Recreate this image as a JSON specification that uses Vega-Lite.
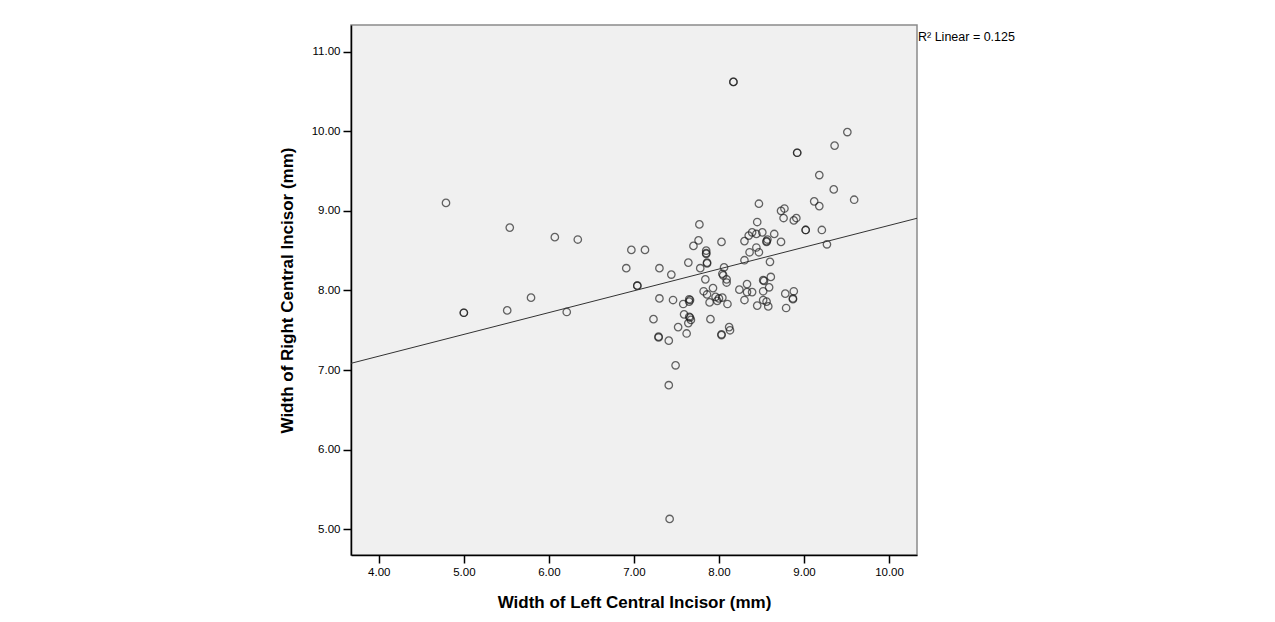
{
  "$schema": "https://vega.github.io/schema/vega-lite/v6.json",
  "width": 566,
  "height": 530,
  "autosize": "none",
  "padding": {"left": 351, "top": 25, "right": 358, "bottom": 67},
  "background": "white",
  "config": {
    "view": {"fill": "#f0f0f0", "stroke": "#8a8a8a", "strokeWidth": 1.5},
    "font": "Liberation Sans",
    "axis": {
      "domainColor": "#000000", "domainWidth": 1.5,
      "tickColor": "#000000", "tickSize": 8, "tickWidth": 1.5,
      "labelFont": "Liberation Sans", "labelFontSize": 11.5, "labelColor": "#000000", "labelPadding": 3,
      "titleFont": "Liberation Sans", "titleFontSize": 17, "titleFontWeight": "bold", "titleColor": "#000000",
      "grid": false
    }
  },
  "layer": [
    {
      "data": {"values": [
        {"left": 4.79, "right": 9.10}, {"left": 5.54, "right": 8.79}, {"left": 6.07, "right": 8.67}, {"left": 6.34, "right": 8.64},
        {"left": 5.00, "right": 7.72}, {"left": 5.00, "right": 7.72}, {"left": 5.51, "right": 7.75}, {"left": 5.79, "right": 7.91},
        {"left": 6.21, "right": 7.73}, {"left": 8.17, "right": 10.62}, {"left": 8.17, "right": 10.62}, {"left": 9.51, "right": 9.99},
        {"left": 9.36, "right": 9.82}, {"left": 8.92, "right": 9.73}, {"left": 8.92, "right": 9.73}, {"left": 9.18, "right": 9.45},
        {"left": 9.35, "right": 9.27}, {"left": 9.59, "right": 9.14}, {"left": 9.12, "right": 9.12}, {"left": 9.18, "right": 9.06},
        {"left": 8.47, "right": 9.09}, {"left": 8.73, "right": 9.00}, {"left": 8.77, "right": 9.03}, {"left": 8.76, "right": 8.91},
        {"left": 8.88, "right": 8.88}, {"left": 8.91, "right": 8.91}, {"left": 9.02, "right": 8.76}, {"left": 9.02, "right": 8.76},
        {"left": 9.21, "right": 8.76}, {"left": 9.27, "right": 8.58}, {"left": 8.45, "right": 8.86}, {"left": 7.77, "right": 8.83},
        {"left": 7.76, "right": 8.63}, {"left": 7.70, "right": 8.56}, {"left": 7.85, "right": 8.50}, {"left": 7.85, "right": 8.47},
        {"left": 7.85, "right": 8.46}, {"left": 7.86, "right": 8.35}, {"left": 7.86, "right": 8.34}, {"left": 8.03, "right": 8.61},
        {"left": 7.64, "right": 8.35}, {"left": 7.78, "right": 8.28}, {"left": 6.97, "right": 8.51}, {"left": 7.13, "right": 8.51},
        {"left": 6.91, "right": 8.28}, {"left": 7.30, "right": 8.28}, {"left": 7.44, "right": 8.20}, {"left": 7.04, "right": 8.06},
        {"left": 7.04, "right": 8.06}, {"left": 8.06, "right": 8.29}, {"left": 8.04, "right": 8.21}, {"left": 8.05, "right": 8.19},
        {"left": 8.09, "right": 8.14}, {"left": 8.09, "right": 8.10}, {"left": 7.84, "right": 8.14}, {"left": 8.30, "right": 8.62},
        {"left": 8.35, "right": 8.69}, {"left": 8.39, "right": 8.73}, {"left": 8.44, "right": 8.71}, {"left": 8.51, "right": 8.73},
        {"left": 8.56, "right": 8.62}, {"left": 8.56, "right": 8.61}, {"left": 8.57, "right": 8.64}, {"left": 8.65, "right": 8.71},
        {"left": 8.73, "right": 8.61}, {"left": 8.44, "right": 8.54}, {"left": 8.36, "right": 8.48}, {"left": 8.47, "right": 8.48},
        {"left": 8.30, "right": 8.38}, {"left": 8.60, "right": 8.36}, {"left": 8.52, "right": 8.13}, {"left": 8.53, "right": 8.12},
        {"left": 8.61, "right": 8.17}, {"left": 8.33, "right": 8.08}, {"left": 8.24, "right": 8.01}, {"left": 8.33, "right": 7.98},
        {"left": 8.39, "right": 7.98}, {"left": 8.52, "right": 7.99}, {"left": 8.59, "right": 8.04}, {"left": 8.30, "right": 7.88},
        {"left": 8.45, "right": 7.81}, {"left": 8.52, "right": 7.88}, {"left": 8.56, "right": 7.86}, {"left": 8.58, "right": 7.80},
        {"left": 8.78, "right": 7.96}, {"left": 8.88, "right": 7.99}, {"left": 8.87, "right": 7.90}, {"left": 8.87, "right": 7.89},
        {"left": 8.79, "right": 7.78}, {"left": 7.82, "right": 7.99}, {"left": 7.86, "right": 7.95}, {"left": 7.93, "right": 8.03},
        {"left": 7.96, "right": 7.92}, {"left": 8.00, "right": 7.90}, {"left": 8.04, "right": 7.91}, {"left": 7.98, "right": 7.87},
        {"left": 7.89, "right": 7.85}, {"left": 8.10, "right": 7.83}, {"left": 7.30, "right": 7.90}, {"left": 7.46, "right": 7.88},
        {"left": 7.58, "right": 7.83}, {"left": 7.65, "right": 7.86}, {"left": 7.65, "right": 7.89}, {"left": 7.66, "right": 7.88},
        {"left": 7.23, "right": 7.64}, {"left": 7.59, "right": 7.70}, {"left": 7.65, "right": 7.67}, {"left": 7.66, "right": 7.66},
        {"left": 7.67, "right": 7.63}, {"left": 7.64, "right": 7.59}, {"left": 7.52, "right": 7.54}, {"left": 7.62, "right": 7.46},
        {"left": 7.29, "right": 7.42}, {"left": 7.29, "right": 7.41}, {"left": 7.41, "right": 7.37}, {"left": 7.90, "right": 7.64},
        {"left": 8.12, "right": 7.54}, {"left": 8.13, "right": 7.50}, {"left": 8.03, "right": 7.45}, {"left": 8.03, "right": 7.44},
        {"left": 7.49, "right": 7.06}, {"left": 7.41, "right": 6.81}, {"left": 7.42, "right": 5.13}
      ]},
      "mark": {"type": "point", "shape": "circle", "filled": false, "size": 55, "stroke": "#1a1a1a", "strokeWidth": 1.3, "strokeOpacity": 0.95},
      "encoding": {
        "x": {
          "field": "left", "type": "quantitative",
          "scale": {"domain": [3.673, 10.329], "nice": false, "zero": false},
          "axis": {"values": [4, 5, 6, 7, 8, 9, 10], "format": ".2f", "title": "Width of Left Central Incisor (mm)", "titlePadding": 17}
        },
        "y": {
          "field": "right", "type": "quantitative",
          "scale": {"domain": [4.677, 11.335], "nice": false, "zero": false},
          "axis": {"values": [5, 6, 7, 8, 9, 10, 11], "format": ".2f", "title": "Width of Right Central Incisor (mm)", "titlePadding": 15}
        }
      }
    },
    {
      "data": {"values": [
        {"left": 3.673, "right": 7.085},
        {"left": 10.329, "right": 8.907}
      ]},
      "mark": {"type": "line", "color": "#333333", "strokeWidth": 1},
      "encoding": {
        "x": {"field": "left", "type": "quantitative"},
        "y": {"field": "right", "type": "quantitative"}
      }
    },
    {
      "data": {"values": [{"label": "R² Linear = 0.125"}]},
      "mark": {"type": "text", "align": "left", "baseline": "middle", "fontSize": 12.5, "font": "Liberation Sans", "color": "#000000", "dx": 1},
      "encoding": {
        "text": {"field": "label"},
        "x": {"value": "width"},
        "y": {"value": 12}
      }
    }
  ]
}
